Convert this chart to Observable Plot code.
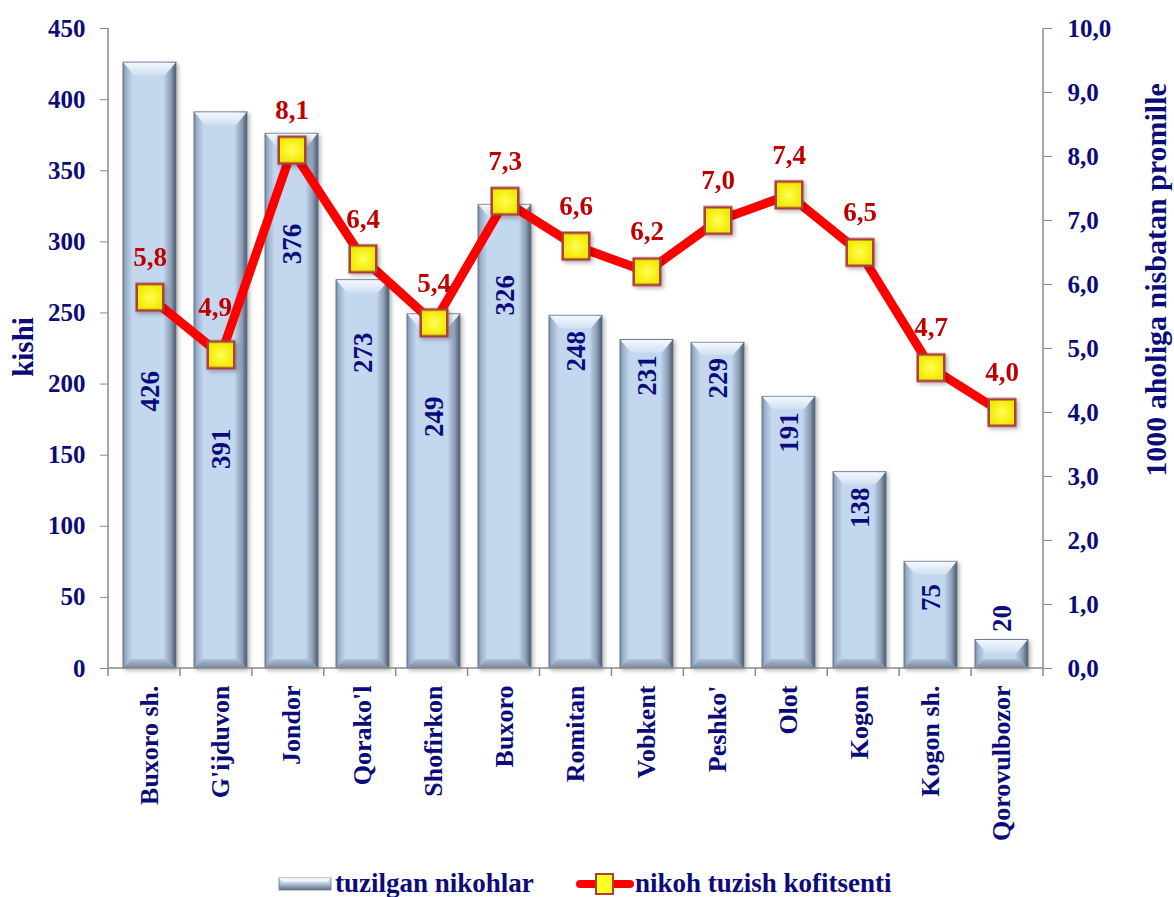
<!DOCTYPE html>
<html><head><meta charset="utf-8">
<script src="https://cdn.jsdelivr.net/npm/d3@7"></script>
<script src="https://cdn.jsdelivr.net/npm/@observablehq/plot@0.6"></script>
<style>
body{margin:0;background:#fff;font-family:"Liberation Serif","Times New Roman",serif;}
#wrap{position:relative;width:1174px;height:897px;overflow:hidden;background:#fff;}
.ttl{position:absolute;transform:translate(-50%,-50%) rotate(-90deg);white-space:nowrap;font-weight:bold;font-family:"Liberation Serif","Times New Roman",serif;color:#0b0b7a;line-height:1;}
.lg{position:absolute;font-weight:bold;font-size:27px;font-family:"Liberation Serif","Times New Roman",serif;color:#0b0b7a;white-space:nowrap;line-height:30px;}
.lgi{position:absolute;}
</style></head><body>
<div id="wrap"><div id="chart"></div></div>
<script>
// ---- data ----
const categories = ["Buxoro sh.","G'ijduvon","Jondor","Qorako'l","Shofirkon","Buxoro","Romitan","Vobkent","Peshko'","Olot","Kogon","Kogon sh.","Qorovulbozor"];
const marriages = [426,391,376,273,249,326,248,231,229,191,138,75,20];
const rates = [5.8,4.9,8.1,6.4,5.4,7.3,6.6,6.2,7.0,7.4,6.5,4.7,4.0];
const leftTicks = [0,50,100,150,200,250,300,350,400,450];
const rightTicks = [0,1,2,3,4,5,6,7,8,9,10];
const seriesNames = ["tuzilgan nikohlar","nikoh tuzish kofitsenti"];
const axisTitles = ["kishi","1000 aholiga nisbatan promille"];

const NAVY = "#0b0b7a", RED = "#c00000";
const k = 450 / 10; // right axis (0-10) mapped onto left axis (0-450)
const fmtR = v => v.toFixed(1).replace(".", ",");
const rows = categories.map((c, i) => ({
  c, n: marriages[i], r: rates[i], ry: rates[i] * k,
  ly: marriages[i] < 40 ? marriages[i] : Math.min(marriages[i] - 25, rates[i] * k - 66),
  small: marriages[i] < 40,
  // label shifted left when the following segment rises steeply from a low point
  shift: (i > 0 && i < rates.length - 1 && rates[i + 1] - rates[i] > 2) ? -6 : 0
}));

const chart = Plot.plot({
  width: 1174, height: 864,
  marginTop: 28, marginBottom: 196, marginLeft: 108, marginRight: 131,
  style: {fontFamily: '"Liberation Serif","Times New Roman",serif', fontWeight: "bold", fontSize: "25px", background: "transparent", overflow: "visible"},
  x: {domain: categories, paddingInner: 0.25, paddingOuter: 0.125},
  y: {domain: [0, 450]},
  marks: [
    Plot.barY(rows, {x: "c", y: "n", fill: "url(#barGrad)"}),
    Plot.axisY({ticks: leftTicks, anchor: "left", tickSize: 8, tickPadding: 15, fontSize: 25, fill: NAVY, stroke: "#8a8a8a", label: null}),
    Plot.axisY({ticks: rightTicks.map(t => t * k), anchor: "right", tickFormat: d => fmtR(d / k), tickSize: 8, tickPadding: 16, fontSize: 25, fill: NAVY, stroke: "#8a8a8a", label: null}),
    Plot.axisX({anchor: "bottom", tickSize: 0, tickPadding: 17, tickRotate: -90, fontSize: 26, fill: NAVY, label: null}),
    Plot.text(rows.filter(d => !d.small), {x: "c", y: "ly", text: d => String(d.n), rotate: -90, fontSize: 27, fill: NAVY, textAnchor: "middle"}),
    Plot.text(rows.filter(d => d.small), {x: "c", y: "ly", text: d => String(d.n), rotate: -90, fontSize: 27, fill: NAVY, textAnchor: "start", dy: -8}),
    Plot.line(rows, {x: "c", y: "ry", stroke: "#ff0000", strokeWidth: 9, strokeLinejoin: "round"}),
    Plot.dot(rows, {x: "c", y: "ry", symbol: "square", r: 15, fill: "url(#markGrad)", stroke: "#a8403c", strokeWidth: 2.5}),
    Plot.text(rows.filter(d => d.shift === 0), {x: "c", y: "ry", text: d => fmtR(d.r), dy: -40, fontSize: 27, fill: RED}),
    Plot.text(rows.filter(d => d.shift !== 0), {x: "c", y: "ry", text: d => fmtR(d.r), dy: -48, dx: -6, fontSize: 27, fill: RED})
  ]
});

// defs: gradients & shadow
const svg = d3.select(chart);
const defs = svg.insert("defs", ":first-child");
function lin(id, x2, y2, stops) {
  const g = defs.append("linearGradient").attr("id", id).attr("x1", 0).attr("y1", 0).attr("x2", x2).attr("y2", y2);
  stops.forEach(([o, c]) => g.append("stop").attr("offset", o).attr("stop-color", c));
}
lin("barGrad", 1, 0, [[0, "#76879e"], [0.05, "#9aaec7"], [0.18, "#c3d7ef"], [0.76, "#c3d7ef"], [0.9, "#8d9eb5"], [1, "#4a586b"]]);
lin("topBevel", 0, 1, [[0, "#f4f8fd"], [1, "#d0e0f2"]]);
lin("botBevel", 0, 1, [[0, "#b0c2d8"], [1, "#76859b"]]);
const rg = defs.append("radialGradient").attr("id", "markGrad");
rg.append("stop").attr("offset", 0).attr("stop-color", "#ffff55");
rg.append("stop").attr("offset", 1).attr("stop-color", "#f2ea00");
const f = defs.append("filter").attr("id", "shadow").attr("x", "-20%").attr("y", "-20%").attr("width", "150%").attr("height", "150%");
f.append("feDropShadow").attr("dx", 2).attr("dy", 2).attr("stdDeviation", 2).attr("flood-color", "#000").attr("flood-opacity", 0.3);

// bar bevels
const barG = svg.select('g[aria-label="bar"]');
barG.attr("filter", "url(#shadow)");
const bev = d3.create("svg:g").attr("aria-label", "bevel");
barG.selectAll("rect").each(function () {
  const x = +this.getAttribute("x"), y = +this.getAttribute("y"), w = +this.getAttribute("width"), h = +this.getAttribute("height");
  d3.select(this).attr("stroke", "#65738a").attr("stroke-width", 0.9);
  const b = Math.min(11, w / 4), bh = Math.min(13, h / 2), bb = Math.min(9, h / 3);
  bev.append("polygon").attr("points", [[x + 0.5, y + 0.5], [x + w - 0.5, y + 0.5], [x + w - b, y + bh], [x + b, y + bh]].join(" ")).attr("fill", "url(#topBevel)");
  bev.append("polygon").attr("points", [[x + b * 0.8, y + h - bb], [x + w - b * 0.8, y + h - bb], [x + w, y + h], [x, y + h]].join(" ")).attr("fill", "url(#botBevel)");
});
barG.node().parentNode.insertBefore(bev.node(), barG.node().nextSibling);

// marker shadow
svg.select('g[aria-label="dot"]').attr("filter", "url(#shadow)");

// axis lines and category boundary ticks (from the scales)
const sx = chart.scale("x"), sy = chart.scale("y");
const [r0, r1] = sx.range;
const step = (r1 - r0) / categories.length;
const y0 = sy.apply(0), yT = sy.apply(450);
const ax = svg.append("g").attr("stroke", "#8a8a8a").attr("stroke-width", 1.5);
ax.append("line").attr("x1", r0).attr("x2", r0).attr("y1", yT).attr("y2", y0);
ax.append("line").attr("x1", r1).attr("x2", r1).attr("y1", yT).attr("y2", y0);
ax.append("line").attr("x1", r0).attr("x2", r1).attr("y1", y0).attr("y2", y0);
for (let i = 0; i <= categories.length; i++) {
  const xx = r0 + i * step;
  ax.append("line").attr("x1", xx).attr("x2", xx).attr("y1", y0).attr("y2", y0 + 8);
}
const lineG = svg.select('g[aria-label="line"]').node();
lineG.parentNode.insertBefore(ax.node(), lineG);

const wrap = document.getElementById("wrap");
document.getElementById("chart").appendChild(chart);

// axis titles
function addDiv(cls, text, css) { const d = document.createElement("div"); d.className = cls; d.textContent = text; Object.assign(d.style, css); wrap.appendChild(d); return d; }
addDiv("ttl", axisTitles[0], {left: "23px", top: "347px", fontSize: "29px"});
addDiv("ttl", axisTitles[1], {left: "1156px", top: "280px", fontSize: "30px"});

// legend
const barIcon = `<svg width="54" height="14"><defs><linearGradient id="lgB" x1="0" y1="0" x2="0" y2="1"><stop offset="0" stop-color="#dfe9f6"/><stop offset="0.45" stop-color="#b9cbe0"/><stop offset="1" stop-color="#5d6c80"/></linearGradient></defs><rect x="1" y="1" width="52" height="12" fill="url(#lgB)" stroke="#6a788c" stroke-width="0.8"/><polygon points="1,1 53,1 49,5 5,5" fill="#eef4fb"/></svg>`;
const lineIcon = `<svg width="58" height="26"><line x1="4" y1="13" x2="54" y2="13" stroke="#ff0000" stroke-width="8" stroke-linecap="round"/><rect x="20" y="3" width="17" height="20" fill="#ffff22" stroke="#a8403c" stroke-width="2"/></svg>`;
const i1 = addDiv("lgi", "", {left: "278px", top: "877px"}); i1.innerHTML = barIcon;
addDiv("lg", seriesNames[0], {left: "335px", top: "868px"});
const i2 = addDiv("lgi", "", {left: "576px", top: "871px"}); i2.innerHTML = lineIcon;
addDiv("lg", seriesNames[1], {left: "635px", top: "868px"});
</script>
</body></html>
